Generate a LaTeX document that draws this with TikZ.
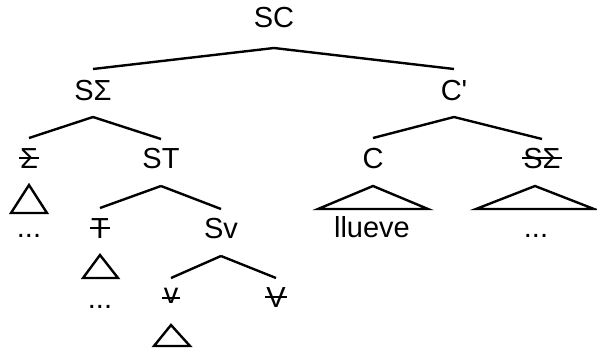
\documentclass[tikz,border=0pt]{standalone}
\usepackage{fontspec}
\setmainfont{Liberation Sans}
\begin{document}
\begin{tikzpicture}[x=1pt, y=-1pt, line width=2.4pt,
  lab/.style={inner sep=0pt, anchor=base, font=\fontsize{29}{34}\selectfont},
  strike/.style={line width=1.6pt}]
\useasboundingbox (0,0) rectangle (597,349);
% 1. Etiquetas
\node[lab] (sc)    at (274,27)  {SC};
\node[lab] (ssig)  at (93,100)  {SΣ};
\node[lab] (cbar)  at (454,100) {C\textquotesingle};
\node[lab] (sig)   at (29,168)  {Σ};
\node[lab] (st)    at (161,168) {ST};
\node[lab] (c)     at (373,168) {C};
\node[lab] (ssigb) at (542,168) {SΣ};
\node[lab] (sigd)  at (29,237)  {...};
\node[lab] (t)     at (100,238) {T};
\node[lab] (sv)    at (221,238) {Sv};
\node[lab] (llu)   at (372,237) {llueve};
\node[lab] (ssigd) at (536,237) {...};
\node[lab] (td)    at (100,308) {...};
\node[lab] (vl)    at (171,303) {v};
\node[lab] (vu)    at (276,307) {V};
\coordinate (vleaf) at (172,347);

% 2. Ramas
\draw ([yshift=-21pt]sc.base) -- ([yshift=31pt]ssig.base);
\draw ([yshift=-21pt]sc.base) -- ([yshift=31pt]cbar.base);
\draw ([yshift=-17pt]ssig.base) -- ([yshift=30pt]sig.base);
\draw ([yshift=-17pt]ssig.base) -- ([yshift=29pt]st.base);
\draw ([yshift=-17pt]cbar.base) -- ([yshift=30pt]c.base);
\draw ([yshift=-17pt]cbar.base) -- ([yshift=29pt]ssigb.base);
\draw ([yshift=-18pt]st.base) -- ([yshift=30pt]t.base);
\draw ([yshift=-18pt]st.base) -- ([yshift=29pt]sv.base);
\draw ([yshift=-18pt]sv.base) -- ([yshift=25pt]vl.base);
\draw ([yshift=-18pt]sv.base) -- ([yshift=29pt]vu.base);

% 3. Triangulos
\draw ([yshift=-17pt]sig.base) -- ([xshift=-18pt,yshift=24pt]sigd.base) -- ([xshift=18pt,yshift=24pt]sigd.base) -- cycle;
\draw ([yshift=-17pt]t.base) -- ([xshift=-17pt,yshift=30pt]td.base) -- ([xshift=18pt,yshift=30pt]td.base) -- cycle;
\draw ([yshift=-22pt]vl.base) -- ([xshift=-18pt,yshift=1pt]vleaf) -- ([xshift=18pt,yshift=1pt]vleaf) -- cycle;
\draw ([yshift=-18pt]c.base) -- ([xshift=-54pt,yshift=28pt]llu.base) -- ([xshift=56pt,yshift=28pt]llu.base) -- cycle;
\draw ([xshift=-7pt,yshift=-18pt]ssigb.base) -- ([xshift=-60pt,yshift=28pt]ssigd.base) -- ([xshift=58pt,yshift=28pt]ssigd.base) -- cycle;

% 4. Tachados
\draw[strike] ([yshift=10pt]sig.base west) -- ([yshift=10pt]sig.base east);
\draw[strike] ([yshift=10pt]ssigb.base west) -- ([yshift=10pt]ssigb.base east);
\draw[strike] ([yshift=10pt]t.base west) -- ([yshift=10pt]t.base east);
\draw[strike] ([xshift=-1pt,yshift=5pt]vl.base west) -- ([xshift=1pt,yshift=5pt]vl.base east);
\draw[strike] ([yshift=10pt]vu.base west) -- ([yshift=10pt]vu.base east);
\end{tikzpicture}
\end{document}
